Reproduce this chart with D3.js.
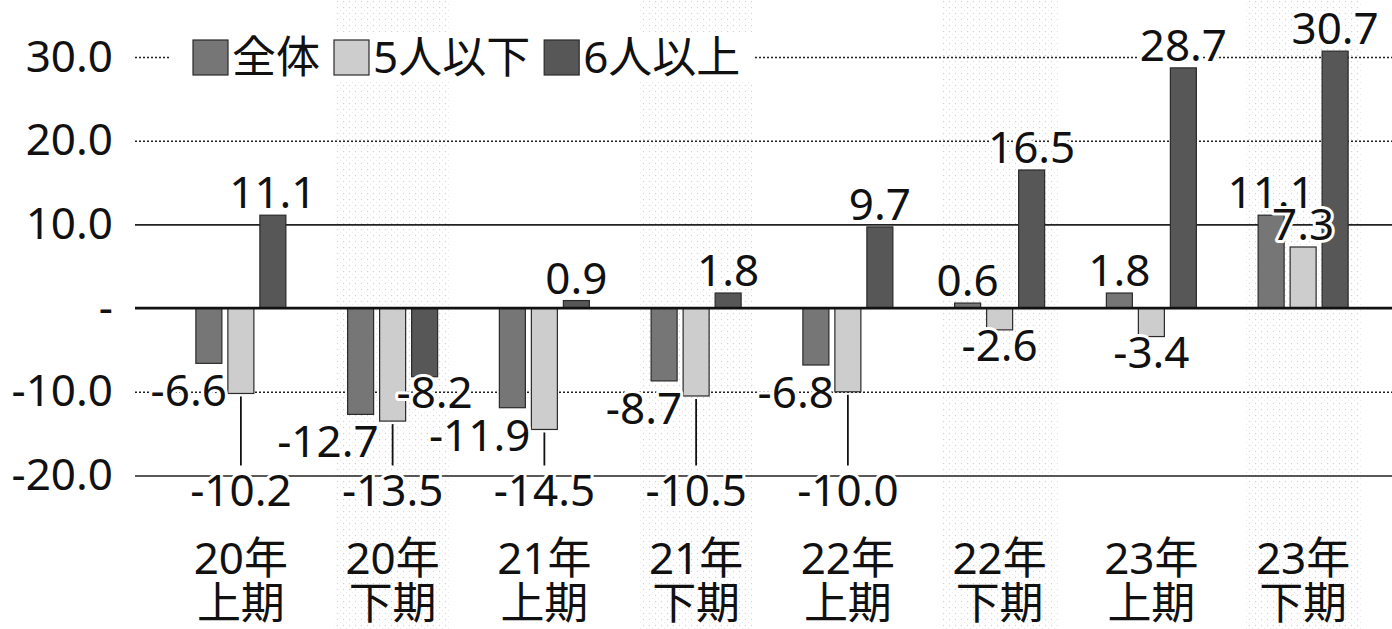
<!DOCTYPE html>
<html>
<head>
<meta charset="utf-8">
<script src="https://cdn.jsdelivr.net/npm/d3@7"></script>
<style>
  html, body { margin: 0; padding: 0; background: #fff; }
  svg { display: block; font-family: 'Noto Sans', 'Noto Sans CJK JP', sans-serif; }
</style>
</head>
<body>
<div id="chart"></div>
<script>
// data
const categories = ['20年上期', '20年下期', '21年上期', '21年下期', '22年上期', '22年下期', '23年上期', '23年下期'];
const seriesNames = ['全体', '5人以下', '6人以上'];
const totalValues = [-6.6, -12.7, -11.9, -8.7, -6.8, 0.6, 1.8, 11.1];
const smallValues = [-10.2, -13.5, -14.5, -10.5, -10.0, -2.6, -3.4, 7.3];
const largeValues = [11.1, -8.2, 0.9, 1.8, 9.7, 16.5, 28.7, 30.7];
const yTicks = [-20, -10, 0, 10, 20, 30];

class GroupedBarChart {
  constructor(_config) {
    this.config = {
      parentElement: _config.parentElement,
      containerWidth: _config.containerWidth || 1392,
      containerHeight: _config.containerHeight || 629,
      fontSize: _config.fontSize || 44
    };
    this.colors = { '全体': '#767676', '5人以下': '#cdcdcd', '6人以上': '#575757' };
    this.initVis();
  }

  initVis() {
    let vis = this;
    vis.svg = d3.select(vis.config.parentElement).append('svg')
      .attr('width', vis.config.containerWidth)
      .attr('height', vis.config.containerHeight);

    // faint halftone pattern behind the 下期 columns
    const defs = vis.svg.append('defs');
    const pat = defs.append('pattern')
      .attr('id', 'stipple')
      .attr('width', 6).attr('height', 6)
      .attr('patternUnits', 'userSpaceOnUse');
    pat.append('circle').attr('cx', 1.5).attr('cy', 1.5).attr('r', 0.7).attr('fill', '#b5b5b5');
    pat.append('circle').attr('cx', 4.5).attr('cy', 4.5).attr('r', 0.5).attr('fill', '#cccccc');

    vis.xScale = d3.scaleBand()
      .domain(categories)
      .range([165, 1379]);

    vis.xSub = d3.scaleBand()
      .domain(seriesNames)
      .range([-45, 45])
      .paddingInner(0.1875);

    vis.yScale = d3.scaleLinear()
      .domain([-20, 30])
      .range([475.5, 57]);

    vis.bgG = vis.svg.append('g');
    vis.gridG = vis.svg.append('g').attr('transform', 'translate(135,0)');
    vis.barG = vis.svg.append('g');
    vis.zeroG = vis.svg.append('g');
    vis.labelG = vis.svg.append('g');
    vis.xLabelG = vis.svg.append('g');
    vis.legendG = vis.svg.append('g');
  }

  updateVis() {
    let vis = this;
    vis.rows = [];
    categories.forEach((c, i) => {
      vis.rows.push({ cat: c, series: '全体', value: totalValues[i] });
      vis.rows.push({ cat: c, series: '5人以下', value: smallValues[i] });
      vis.rows.push({ cat: c, series: '6人以上', value: largeValues[i] });
    });
    vis.renderVis();
  }

  renderVis() {
    let vis = this;
    const fs = vis.config.fontSize;
    const W = vis.config.containerWidth;
    const y = vis.yScale;
    const fmt = d => d.toFixed(1); // plain hyphen minus, like the print
    const cx = d => vis.xScale(d.cat) + vis.xScale.bandwidth() / 2 + vis.xSub(d.series) + vis.xSub.bandwidth() / 2;

    // stippled background bands
    vis.bgG.selectAll('rect')
      .data(categories.filter(c => c.endsWith('下期')))
      .join('rect')
      .attr('x', d => vis.xScale(d) + vis.xScale.bandwidth() / 2 - 58)
      .attr('y', 0)
      .attr('width', 116)
      .attr('height', vis.config.containerHeight)
      .attr('fill', 'url(#stipple)')
      .attr('opacity', 0.6);

    // y axis with gridlines
    const yAxis = d3.axisLeft(y)
      .tickValues(yTicks)
      .tickSize(-(W - 135))
      .tickPadding(22)
      .tickFormat(d => d === 0 ? '-' : fmt(d));

    vis.gridG.call(yAxis)
      .call(g => g.select('.domain').remove());
    vis.gridG.selectAll('.tick text')
      .attr('font-size', fs)
      .attr('fill', '#111')
      .attr('font-family', "'Noto Sans', sans-serif");
    vis.gridG.selectAll('.tick line')
      .attr('stroke', '#222')
      .attr('stroke-width', d => d === 0 ? 0 : (d === 10 || d === -20 ? 1.6 : 1.4))
      .attr('stroke-dasharray', d => (d === 30 || d === 20 || d === -10) ? '2,2' : null);

    // bars
    vis.barG.selectAll('rect')
      .data(vis.rows)
      .join('rect')
      .attr('x', d => cx(d) - vis.xSub.bandwidth() / 2)
      .attr('width', vis.xSub.bandwidth())
      .attr('y', d => y(Math.max(0, d.value)))
      .attr('height', d => Math.abs(y(d.value) - y(0)))
      .attr('fill', d => vis.colors[d.series])
      .attr('stroke', '#2a2a2a')
      .attr('stroke-width', 1.2);

    // zero line over the bars
    vis.zeroG.append('line')
      .attr('x1', 135).attr('x2', W)
      .attr('y1', y(0)).attr('y2', y(0))
      .attr('stroke', '#111')
      .attr('stroke-width', 2.6);

    // leader lines for the low 5人以下 values
    const leaders = vis.rows.filter(d => d.series === '5人以下' && d.value < -5);
    vis.labelG.selectAll('line.leader')
      .data(leaders)
      .join('line')
      .attr('class', 'leader')
      .attr('x1', cx).attr('x2', cx)
      .attr('y1', d => y(d.value) + 3)
      .attr('y2', y(-20) - 10)
      .attr('stroke', '#111')
      .attr('stroke-width', 1.8);

    // value labels
    const labelX = d => {
      if (d.value < 0 && d.series === '全体') return cx(d) + vis.xSub.bandwidth() / 2 + 5;
      if (d.value < 0 && d.series === '6人以上') return cx(d) + 10;
      return cx(d);
    };
    const labelY = d => {
      if (d.value >= 0) return y(d.value) - 7;
      if (d.series === '全体') return y(d.value) + 43;
      if (d.series === '5人以下' && d.value < -5) return y(-20) + 30;
      return y(d.value) + 31;
    };
    vis.labelG.selectAll('text.value')
      .data(vis.rows)
      .join('text')
      .attr('class', 'value')
      .attr('x', labelX)
      .attr('y', labelY)
      .attr('text-anchor', d => (d.value < 0 && d.series === '全体') ? 'end' : 'middle')
      .attr('font-size', fs)
      .attr('fill', '#111')
      .attr('stroke', '#fff')
      .attr('stroke-width', 6)
      .attr('stroke-linejoin', 'round')
      .attr('paint-order', 'stroke')
      .text(d => fmt(d.value));

    // two-line category labels
    const xl = vis.xLabelG.selectAll('text')
      .data(categories)
      .join('text')
      .attr('x', d => vis.xScale(d) + vis.xScale.bandwidth() / 2)
      .attr('text-anchor', 'middle')
      .attr('font-size', fs)
      .attr('fill', '#111');
    xl.append('tspan')
      .attr('x', d => vis.xScale(d) + vis.xScale.bandwidth() / 2)
      .attr('y', 574)
      .text(d => d.slice(0, d.indexOf('年') + 1));
    xl.append('tspan')
      .attr('x', d => vis.xScale(d) + vis.xScale.bandwidth() / 2)
      .attr('y', 619)
      .text(d => d.slice(d.indexOf('年') + 1));

    // legend
    const bg = vis.legendG.append('rect')
      .attr('y', 32).attr('height', 50)
      .attr('fill', '#fff');
    let lx = 193;
    seriesNames.forEach(s => {
      vis.legendG.append('rect')
        .attr('x', lx).attr('y', 40)
        .attr('width', 35).attr('height', 35)
        .attr('fill', vis.colors[s])
        .attr('stroke', '#2a2a2a')
        .attr('stroke-width', 1.2);
      const t = vis.legendG.append('text')
        .attr('x', lx + 39).attr('y', 73)
        .attr('font-size', fs)
        .attr('fill', '#111')
        .text(s);
      lx += 39 + t.node().getComputedTextLength() + 14;
    });
    bg.attr('x', 170).attr('width', lx - 170);
  }
}

const chart = new GroupedBarChart({ parentElement: '#chart' });
chart.updateVis();
</script>
</body>
</html>
